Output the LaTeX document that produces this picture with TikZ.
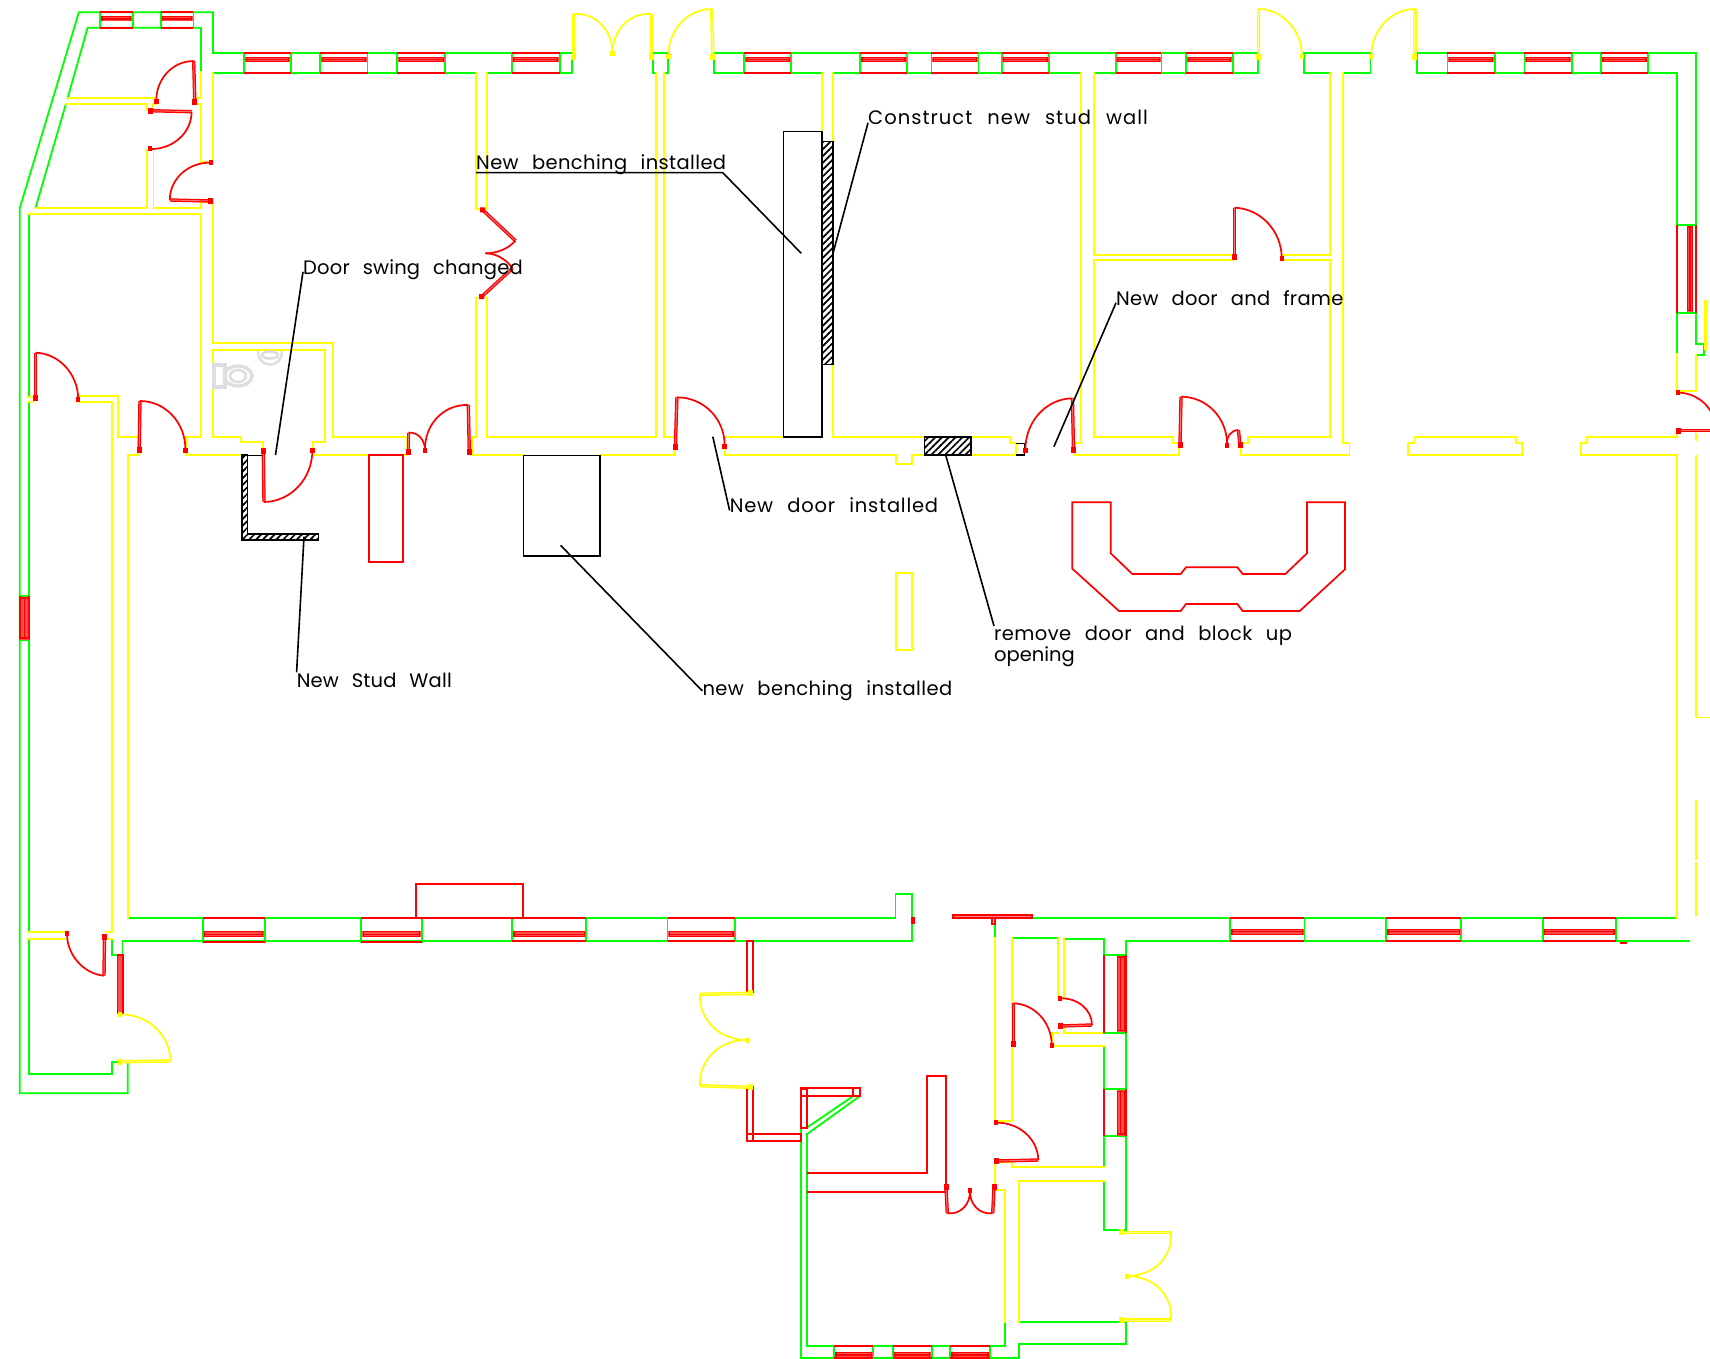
\documentclass[tikz,border=0pt]{standalone}
\usepackage{fontspec}
\newfontfamily\cadfont[WordSpace=2.4]{Poppins}
\usetikzlibrary{calc,patterns.meta}
\definecolor{cadg}{RGB}{0,255,0}
\definecolor{cady}{RGB}{255,255,0}
\definecolor{cadr}{RGB}{255,0,0}
\tikzset{
  gw/.style={draw=cadg,line width=1.8pt,line cap=rect},
  yw/.style={draw=cady,line width=1.8pt,line cap=rect},
  rw/.style={draw=cadr,line width=1.7pt},
  blk/.style={draw=black,line width=1.6pt},
  fixture/.style={draw=black!13,line width=2.6pt},
  hatchbox/.style={pattern={Lines[angle=45,distance=4.8pt,line width=1.7pt]},pattern color=black,draw=black,line width=1.6pt},
  note/.style={font=\cadfont\fontsize{19.5}{21}\selectfont,inner sep=0pt,anchor=base west,text=black},
}
\newcommand\drw[4]{%
  \draw[draw=#1,line width=3.4pt] (#2)--(#3);
  \draw[draw=#1!55,line width=0.9pt] (#2)--(#3);
  \draw[draw=#1,line width=1.7pt] (#3) .. controls ($(#3)+0.5523*(#4)-0.5523*(#2)$) and ($(#4)+0.5523*(#3)-0.5523*(#2)$) .. (#4);
  \fill[#1] ($(#2)+(-2.5,-3)$) rectangle ($(#2)+(2.5,3)$);
  \fill[#1] ($(#4)+(-2.2,-2.5)$) rectangle ($(#4)+(2.2,2.5)$);
}
\newcommand\hwin[6]{%
  \draw[gw] (#1,#3)--(#1,#4) (#2,#3)--(#2,#4);
  \draw[rw] (#1,#3)--(#2,#3) (#1,#4)--(#2,#4);
  \fill[cadr!70] (#1+0.5,#5) rectangle (#2-0.5,#6);
  \draw[cadr,line width=1.2pt] (#1+2,#5+0.8)--(#2-2,#5+0.8) (#1+2,#6-0.8)--(#2-2,#6-0.8) (#1+2,#5*0.5+#6*0.5)--(#2-2,#5*0.5+#6*0.5) (#1+2,#5)--(#1+2,#6) (#2-2,#5)--(#2-2,#6);
}
\newcommand\vwin[6]{%
  \draw[gw] (#1,#3)--(#2,#3) (#1,#4)--(#2,#4);
  \draw[rw] (#1,#3)--(#1,#4) (#2,#3)--(#2,#4);
  \fill[cadr!70] (#5,#3+0.5) rectangle (#6,#4-0.5);
  \draw[cadr,line width=1.2pt] (#5+0.8,#3+2)--(#5+0.8,#4-2) (#6-0.8,#3+2)--(#6-0.8,#4-2) (#5*0.5+#6*0.5,#3+2)--(#5*0.5+#6*0.5,#4-2) (#5,#3+2)--(#6,#3+2) (#5,#4-2)--(#6,#4-2);
}
\begin{document}
\begin{tikzpicture}[x=1pt,y=-1pt]
\path[use as bounding box] (0,0) rectangle (1710,1359);
\clip (0,0) rectangle (1710,1359);
% green walls
\draw[gw] (213,53.3)--(213,12.3)--(78.9,12.3)--(19.8,208)--(19.8,1093.3)--(127.8,1093.3)--(127.8,1062.3);
\draw[gw] (201,71.7)--(201,27.7)--(87.6,27.7)--(67.6,98.3);
\draw[gw] (65.8,104.3)--(35.6,207.7);
\draw[gw] (29,213.7)--(29,396.7) (29,401.7)--(29,932.3) (29,939)--(29,1074.3)--(111.7,1074.3)--(111.7,1062.3)--(118.6,1062.3);
\draw[gw] (213,53.3)--(572.2,53.3) (652.5,53.3)--(668,53.3) (714.3,53.3)--(1257.6,53.3) (1303.9,53.3)--(1370.5,53.3) (1416.7,53.3)--(1696,53.3)--(1696,344.3)--(1704,344.3)--(1704,355)--(1696,355);
\draw[gw] (213,72.7)--(476.2,72.7) (487.1,72.7)--(572.2,72.7)--(572.2,53.3);
\draw[gw] (656.2,72.7)--(653.2,72.7)--(653.2,53.3) (664.3,72.7)--(668,72.7)--(668,53.3);
\draw[gw] (714.3,53.3)--(714.3,72.7)--(822,72.7) (833,72.7)--(1081,72.7) (1094,72.7)--(1257.6,72.7)--(1257.6,53.3);
\draw[gw] (1303.9,53.3)--(1303.9,72.7)--(1329.8,72.7) (1342.7,72.7)--(1370.5,72.7)--(1370.5,53.3);
\draw[gw] (1416.7,53.3)--(1416.7,72.7)--(1676.8,72.7)--(1676.8,354.3);
\draw[gw] (128,918)--(895.4,918)--(895.4,894)--(911.8,894)--(911.8,917) (911.8,925)--(911.8,940.7)--(122.5,940.7)--(122.5,954.7)--(111.7,954.7)--(111.7,939);
\draw[gw] (1031.7,918.3)--(1677,918.3);
\draw[gw] (995,924)--(995,938.3) (1012.3,938.3)--(1058.3,938.3) (1064,939)--(1104,939)--(1104,955);
\draw[gw] (1689,941)--(1126,941)--(1126,1230);
\draw[gw] (1126,1321.7)--(1126,1343.7)--(1019.3,1343.7)--(1019.3,1358.3)--(800.7,1358.3)--(800.7,1128.3)--(806.7,1128.3);
\draw[gw] (806.7,1134)--(806.7,1345.7)--(1005,1345.7)--(1005,1321.7) (1019.3,1321.7)--(1126,1321.7);
\draw[gw] (1104,1032.7)--(1126,1032.7) (1104,1046)--(1104,1089.3)--(1126,1089.3) (1104,1167.3)--(1104,1136)--(1126,1136) (1104,1180.7)--(1104,1230)--(1126,1230);
\draw[gw] (806.7,1134.3)--(860,1096) (806.7,1127.7)--(853.3,1096);
% yellow walls
\draw[yw] (67.6,98.3)--(156,98.3) (194.8,98.3)--(201,98.3)--(201,71.7);
\draw[yw] (65.8,104.3)--(147.2,104.3)--(147.2,110) (153,110)--(153,104.3)--(156,104.3);
\draw[yw] (194.5,104.3)--(201,104.3)--(201,161.7)--(209,161.7) (213,72.7)--(213,161.7);
\draw[yw] (213,201)--(213,342.7)--(333.3,342.7)--(333.3,436.7)--(406.5,436.7)--(406.5,455);
\draw[yw] (209,201.7)--(201,201.7)--(201,207.7)--(153.4,207.7)--(153.4,150);
\draw[yw] (147.2,150)--(147.2,207.7)--(35.6,207.7);
\draw[yw] (29,213.7)--(201,213.7)--(201,436.7)--(186,436.7)--(186,448);
\draw[yw] (29,396.7)--(33,396.7) (29,401.7)--(33,401.7);
\draw[yw] (79.2,396)--(118.1,396)--(118.1,436.7)--(138.1,436.7)--(138.1,448);
\draw[yw] (79.2,402.3)--(111.7,402.3)--(111.7,932.3)--(106.4,932.3) (111.7,939)--(106.4,939);
\draw[yw] (29,932.3)--(65,932.3) (29,939)--(65,939);
\draw[yw] (138.3,448)--(138.3,455)--(128.3,455)--(128.3,917.7);
\draw[yw] (186,448)--(186,455)--(241.7,455);
\draw[yw] (325,350)--(213,350)--(213,436.7)--(241,436.7)--(241,441.7)--(262.7,441.7)--(262.7,448);
\draw[yw] (325,350)--(325,441.7)--(312.7,441.7)--(312.7,448);
\draw[yw] (314,455)--(406.5,455);
\draw[yw] (471.7,448)--(471.7,436.7)--(476,436.7)--(476,297.5)--(487,297.5)--(487,436.7)--(656.2,436.7)--(656.2,72.7);
\draw[yw] (476,209.3)--(476,72.7) (487,72.7)--(487,209.3)--(476,209.3);
\draw[yw] (664.3,72.7)--(664.3,436.7)--(674.7,436.7)--(674.7,445);
\draw[yw] (471.7,448)--(471.7,455)--(523.5,455) (600,455)--(674.7,455)--(674.7,450);
\draw[yw] (724.6,448)--(724.6,455)--(895.7,455)--(895.7,464.3)--(912.3,464.3)--(912.3,455)--(924.4,455);
\draw[yw] (725.4,445)--(725.4,436.7)--(783,436.7);
\draw[yw] (822,142)--(822,72.7) (833,72.7)--(833,142) (822,364.3)--(822,436.7) (833,364.3)--(833,436.7)--(924.4,436.7);
\draw[yw] (970.7,436.7)--(1010.2,436.7)--(1010.2,443.3)--(1015.8,443.3)--(1015.8,455)--(970.7,455);
\draw[yw] (1081,72.7)--(1081,442.7)--(1075,442.7)--(1075,448) (1074.5,450)--(1074.5,455)--(1179.2,455)--(1179.2,448);
\draw[yw] (1232,255)--(1094,255)--(1094,72.7) (1233,260)--(1094,260)--(1094,436.7)--(1172.5,436.7)--(1172.5,443.3)--(1179.2,443.3);
\draw[yw] (1282.4,255)--(1329.8,255)--(1329.8,72.7);
\draw[yw] (1282.4,260)--(1329.8,260)--(1329.8,436.7)--(1247.6,436.7)--(1247.6,443.3)--(1241,443.3)--(1241,455)--(1349.4,455)--(1349.4,443.3)--(1342.7,443.3)--(1342.7,72.7);
\draw[yw] (1408.3,455)--(1408.3,443.3)--(1414.5,443.3)--(1414.5,436.7)--(1516,436.7)--(1516,443.3)--(1522,443.3)--(1522,455)--cycle;
\draw[yw] (1677,430)--(1677,436.7)--(1587,436.7)--(1587,443.3)--(1581,443.3)--(1581,455)--(1677,455)--(1677,918);
\draw[yw] (1676.8,354.3)--(1676.8,390.7)--(1696,390.7)--(1696,355);
\draw[yw,line width=3pt] (1705.3,301.7)--(1705.3,348);
\draw[yw] (1696,456)--(1696,717.5)--(1712,717.5) (1696,434)--(1696,440) (1696,801)--(1696,859.5) (1696,863)--(1696,915);
\draw[yw] (895.7,572.7) rectangle (912.3,650);
\draw[yw] (995,938.3)--(995,1121.7) (1012.3,938.3)--(1012.3,1121)--(995,1121);
\draw[yw] (995,1163.3)--(995,1190)--(1005,1190)--(1005,1321.7);
\draw[yw] (1000,1162.3)--(1012.3,1162.3)--(1012.3,1167.3)--(1104,1167.3);
\draw[yw] (1058.3,938.3)--(1058.3,996.7) (1064,938.3)--(1064,996.7);
\draw[yw] (1104,1032.7)--(1064,1032.7)--(1064,1027) (1058.3,1032.7)--(1052.7,1032.7)--(1052.7,1041.7) (1052.7,1046)--(1104,1046);
\draw[yw] (1019.3,1321.7)--(1019.3,1180.7)--(1104,1180.7);
% sanitary fittings
\draw[fixture,line width=4pt] (214,364.5) rectangle (225,387);
\draw[fixture,line width=3.4pt] (238,376) ellipse (14 and 10);
\draw[fixture] (238,376) ellipse (8 and 6);
\draw[fixture] (258,351) .. controls (258,369) and (282,369) .. (282,351);
\draw[fixture] (270,355) ellipse (8 and 3.5);
% windows
\hwin{100}{132.7}{12.3}{27.7}{16}{20.7}
\hwin{160.7}{193.4}{12.3}{27.7}{16}{20.7}
\hwin{244.3}{290.8}{53.3}{72.7}{57}{62.3}
\hwin{320.2}{367.5}{53.3}{72.7}{57}{62.3}
\hwin{397.3}{445.3}{53.3}{72.7}{57}{62.3}
\hwin{511.8}{559.8}{53.3}{72.7}{57}{62.3}
\hwin{744.2}{791.2}{53.3}{72.7}{57}{62.3}
\hwin{860}{907}{53.3}{72.7}{57}{62.3}
\hwin{931.4}{978.4}{53.3}{72.7}{57}{62.3}
\hwin{1001.7}{1049}{53.3}{72.7}{57}{62.3}
\hwin{1115.7}{1161.4}{53.3}{72.7}{57}{62.3}
\hwin{1186.2}{1232.8}{53.3}{72.7}{57}{62.3}
\hwin{1447.4}{1494.8}{53.3}{72.7}{57}{62.3}
\hwin{1524.4}{1571.7}{53.3}{72.7}{57}{62.3}
\hwin{1601}{1648}{53.3}{72.7}{57}{62.3}
\vwin{1676.8}{1696}{225}{312.7}{1687}{1693}
\vwin{20}{29.3}{596}{640}{20}{29.3}
\hwin{202.8}{264.8}{918}{942}{931}{937.3}
\hwin{361.3}{421.7}{918}{942}{931}{937.3}
\hwin{512}{586.3}{918}{941}{931}{937.3}
\hwin{667.5}{735}{918}{941}{931}{937.3}
\hwin{1230}{1304.4}{918.3}{941}{928.5}{935}
\hwin{1386}{1461.3}{918.3}{941}{928.5}{935}
\hwin{1542.7}{1616}{918.3}{941}{928.5}{935}
\vwin{1104}{1126}{955}{1032.7}{1116.7}{1125}
\vwin{1104}{1126}{1089.3}{1136}{1116.7}{1125}
\hwin{834}{873.3}{1345.7}{1358.3}{1351.7}{1358.3}
\hwin{892.7}{931.7}{1345.7}{1358.3}{1351.7}{1358.3}
\hwin{950}{990}{1345.7}{1358.3}{1351.7}{1358.3}
% red joinery
\draw[rw,fill=cadr!70] (117.5,955) rectangle (123.2,1013);
\draw[rw] (746.7,940.7) rectangle (753.3,991.7);
\draw[rw] (746.7,1087.3) rectangle (753.3,1140.7) (746.7,1134.3) rectangle (800.7,1140.7);
\draw[rw] (800.7,1089.3) rectangle (806.7,1128.3) (800.7,1088.3) rectangle (860,1096) (853.3,1088.3)--(853.3,1096);
\draw[rw,fill=cadr!50] (953.3,915) rectangle (1031.7,918.3);
\draw[rw] (991.7,918.3) rectangle (995,924);
\draw[rw] (911.8,917.5) rectangle (913.8,923);
\draw[rw] (806.7,1172.7)--(926.7,1172.7)--(926.7,1075.7)--(945.7,1075.7)--(945.7,1190);
\draw[rw] (806.7,1192.3)--(947,1192.3);
\draw[rw] (1620,943)--(1627,943);
% benches
\draw[rw] (416,917.7)--(416,884)--(523,884)--(523,917.7)--cycle;
\draw[rw] (369.3,455.3) rectangle (403.3,562.3);
\draw[rw] (1072.3,502.3)--(1110.7,502.3)--(1110.7,553.3)--(1132.3,574)--(1180.7,574)--(1186,567.3)--(1237.3,567.3)--(1242.7,574)--(1285.3,574)--(1307,553.3)--(1307,502.3)--(1345,502.3)--(1345,569.3)--(1299.7,611)--(1242.7,611)--(1237.3,604)--(1186,604)--(1180.7,611)--(1119,611)--(1072.3,568.7)--cycle;
\draw[blk] (523.5,455.3) rectangle (600,556);
\draw[blk] (783.4,131.7) rectangle (822,436.7);
% hatched new work
\draw[hatchbox] (822,141.7) rectangle (833,364.3);
\draw[hatchbox] (924.4,436.7) rectangle (970.7,455);
\draw[hatchbox] (241.7,455)--(241.7,540)--(318.3,540)--(318.3,534)--(247.3,534)--(247.3,455)--cycle;
\draw[blk] (247.3,455.3)--(263.3,455.3);
\draw[blk] (1015.8,443.3)--(1024.3,443.3)--(1024.3,455)--(1015.8,455);
% doors
\drw{cadr}{194.8,101.7}{193.7,61}{156.3,101.7}
\drw{cadr}{150.1,110.7}{191.6,111.7}{150.1,149}
\drw{cadr}{210.8,201}{169.8,200}{210.8,162.7}
\drw{cadr}{35.3,398.3}{35.3,352.7}{78.2,399.3}
\drw{cadr}{139.2,450}{140,401}{185.4,450}
\drw{cadr}{263.3,450.7}{264,502}{312.3,450}
\drw{cadr}{408.3,451.7}{408.3,432.7}{425,450}
\drw{cadr}{469.3,451.7}{468.3,405}{425,450}
\drw{cadr}{675.4,446.7}{676.9,397.3}{724.6,446.7}
\drw{cadr}{1073.5,450}{1072.4,398.3}{1025.4,450.7}
\drw{cadr}{1180,445}{1181,396.7}{1227,445}
\drw{cadr}{1240,445}{1238.4,430}{1227,445}
\drw{cadr}{1234.3,256.7}{1234.3,207.7}{1281.7,258}
\drw{cadr}{1678,430.7}{1716,430.7}{1678,392.7}
\drw{cadr}{104.5,937}{104,975.7}{67,933.3}
\drw{cadr}{1013.3,1044}{1013.3,1003.3}{1051.7,1045}
\drw{cadr}{1060,1026}{1092,1025}{1060,998.3}
\drw{cadr}{996.7,1161}{1038.3,1160}{996,1122.7}
\drw{cadr}{946,1187.3}{947.3,1213.3}{970,1190}
\drw{cadr}{994,1187.3}{992.7,1213.3}{970,1190}
\drw{cady}{573.3,56.7}{573.3,14}{612.5,53.3}
\drw{cady}{651.4,56.7}{651.4,14}{612.5,53.3}
\drw{cady}{712.8,56.7}{711.7,9}{668.4,56.7}
\drw{cady}{1258.4,56.7}{1258.4,9}{1302,56.7}
\drw{cady}{1414.9,56.7}{1414.9,9}{1371.2,56.7}
\drw{cady}{119.8,1061.7}{170.3,1061}{119.8,1014.3}
\drw{cady}{750,993.3}{700,994.3}{747.7,1040}
\drw{cady}{750,1087.3}{700,1085.7}{747.7,1040}
\drw{cady}{1121.7,1232.3}{1170.7,1232.3}{1126.7,1276}
\drw{cady}{1121.7,1320}{1170.7,1320}{1126.7,1276}
% bi-fold pair
\draw[draw=cadr,line width=3.4pt] (482.7,210)--(515.4,240.7) (481.6,296.7)--(512.5,268.3);
\draw[draw=cadr!55,line width=0.9pt] (482.7,210)--(515.4,240.7) (481.6,296.7)--(512.5,268.3);
\draw[draw=cadr,line width=1.7pt] (515.4,240.7) .. controls (508,249) and (497,253.3) .. (485.3,253.3);
\draw[draw=cadr,line width=1.7pt] (512.5,268.3) .. controls (506,259) and (496,253.3) .. (485.3,253.3);
\fill[cadr] (480,207.5) rectangle (485,212.5) (479,294) rectangle (484,299);
% notes and leaders
\node[note] (swing) at (303,274) {\addfontfeature{LetterSpace=1}Door swing changed};
\node[note] (bench1) at (476,170) {\addfontfeature{LetterSpace=1.9}New benching installed};
\node[note] (stud1) at (868,125) {\addfontfeature{LetterSpace=5.3}Construct new stud wall};
\node[note] (frame) at (1116,305) {\addfontfeature{LetterSpace=1.3}New door and frame};
\node[note] (newdoor) at (729.6,512.6) {\addfontfeature{LetterSpace=3.9}New door installed};
\node[note] (stud2) at (296.6,687) {\addfontfeature{LetterSpace=0.9}New Stud Wall};
\node[note] (bench2) at (702.4,695.8) {\addfontfeature{LetterSpace=2.1}new benching installed};
\node[note,anchor=north west,align=left] (block) at (994,626) {\addfontfeature{LetterSpace=2.2}remove door and block up\\opening};
\coordinate (swingend) at (275.5,455);
\coordinate (bench1mid) at (722.8,172.7);
\coordinate (bench1end) at (801.2,253.3);
\coordinate (stud1end) at (833,253.3);
\coordinate (frameend) at (1053.9,446.7);
\coordinate (newdoorend) at (712.8,436.7);
\coordinate (stud2end) at (304,536.7);
\coordinate (bench2end) at (560.6,545.3);
\coordinate (blockend) at (945.7,455);
\draw[blk] (swing.mid west)--(swingend);
\draw[blk] ([yshift=-2.7pt]bench1.base west)--(bench1mid)--(bench1end);
\draw[blk] (stud1.mid west)--(stud1end);
\draw[blk] (frame.mid west)--(frameend);
\draw[blk] (newdoor.mid west)--(newdoorend);
\draw[blk] (stud2.north west)--(stud2end);
\draw[blk] (bench2.west)--(bench2end);
\draw[blk] (block.north west)--(blockend);
\end{tikzpicture}
\end{document}
